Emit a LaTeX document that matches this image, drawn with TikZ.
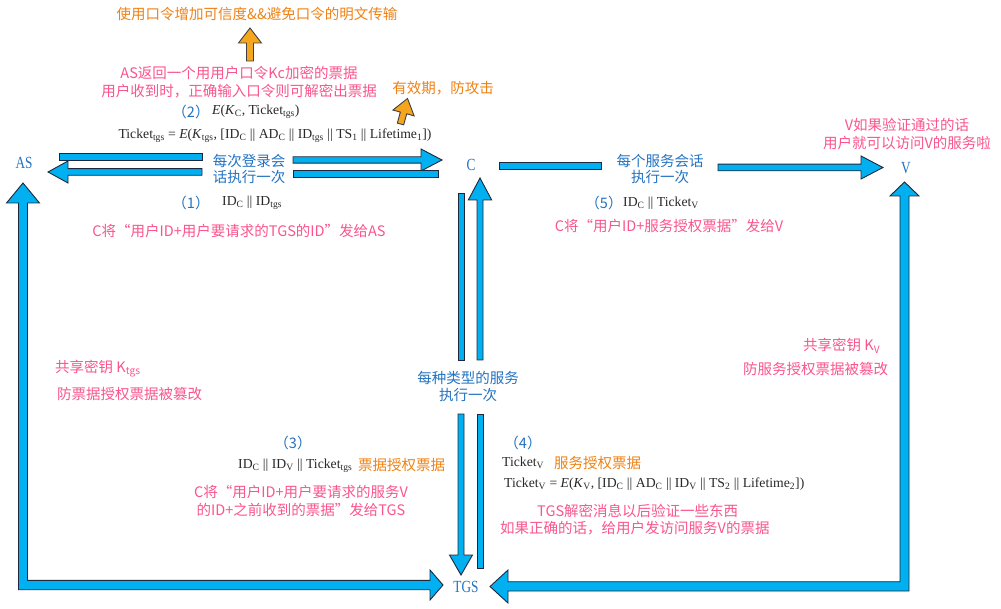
\documentclass[tikz,border=0pt]{standalone}
\usepackage{fontspec}
\setmainfont{Liberation Serif}
\newfontfamily\cjk{Noto Sans CJK SC}
\usetikzlibrary{calc}
\definecolor{abl}{RGB}{0,176,240}
\definecolor{aol}{RGB}{30,40,60}
\definecolor{tbl}{RGB}{35,115,195}
\definecolor{pk}{RGB}{250,85,140}
\definecolor{og}{RGB}{240,130,20}
\definecolor{oga}{RGB}{245,165,30}
\definecolor{mk}{RGB}{40,40,40}
% block arrow: style, from, to, shaft half width, head half width, head length
\newcommand\barrow[6]{%
  \coordinate (hb) at ($(#3)!#6!(#2)$);
  \draw[#1] ($(#2)!#4!90:(#3)$) -- ($(hb)!#4!90:(#3)$) -- ($(hb)!#5!90:(#3)$) -- (#3)
     -- ($(hb)!#5!-90:(#3)$) -- ($(hb)!#4!-90:(#3)$) -- ($(#2)!#4!-90:(#3)$) -- cycle;}
% plain band: style, from, to, half width
\newcommand\bband[4]{%
  \draw[#1] ($(#2)!#4!90:(#3)$) -- ($(#3)!#4!-90:(#2)$) -- ($(#3)!#4!90:(#2)$) -- ($(#2)!#4!-90:(#3)$) -- cycle;}
\tikzset{
  blk/.style={fill=abl, draw=aol, line width=0.9pt, line join=miter},
  oblk/.style={fill=oga, draw=black!75, line width=0.9pt, line join=miter},
  cj/.style={inner sep=0pt, font=\cjk\fontsize{14.5}{18}\selectfont, align=center},
  btx/.style={cj, text=tbl},
  ptx/.style={cj, text=pk},
  otx/.style={cj, text=og},
  mtx/.style={inner sep=0pt, text=mk, font=\fontsize{13.7}{15}\selectfont},
  lab/.style={inner sep=0pt, text=tbl, font=\fontsize{17}{19}\selectfont}
}
\begin{document}
\begin{tikzpicture}[x=1pt,y=-1pt]
\fill[white] (0,0) rectangle (1001,609);
\useasboundingbox (0,0) rectangle (1001,609);

% entity labels
\node[lab] (AS) at (24,163) {\scalebox{0.78}[1]{AS}};
\node[lab] (C) at (471,165) {\scalebox{0.78}[1]{C}};
\node[lab] (V) at (906,168) {\scalebox{0.78}[1]{V}};
\node[lab] (TGS) at (466,587) {\scalebox{0.78}[1]{TGS}};

% AS <-> C arrows
\coordinate (u1) at (59,157); \coordinate (u2) at (202,157);
\coordinate (u3) at (293,160); \coordinate (u4) at (442,160);
\bband{blk}{u1}{u2}{3.2pt}
\barrow{blk}{u3}{u4}{3.2pt}{11pt}{21pt}
\coordinate (l1) at (202,172); \coordinate (l2) at (48,172);
\coordinate (l3) at (293,174); \coordinate (l4) at (438,174);
\barrow{blk}{l1}{l2}{3.3pt}{11pt}{20pt}
\bband{blk}{l3}{l4}{3.3pt}

% C -> V
\coordinate (cv1) at (499,166); \coordinate (cv2) at (601,166);
\coordinate (cv3) at (718,167.5); \coordinate (cv4) at (883,167.5);
\bband{blk}{cv1}{cv2}{3.3pt}
\barrow{blk}{cv3}{cv4}{3.3pt}{11.5pt}{22pt}

% C -> TGS
\coordinate (ct1) at (461,193); \coordinate (ct2) at (461,360);
\coordinate (ct3) at (461,414); \coordinate (ct4) at (461,575);
\bband{blk}{ct1}{ct2}{3pt}
\barrow{blk}{ct3}{ct4}{3pt}{11.5pt}{20pt}
% TGS -> C
\coordinate (tc1) at (480,568); \coordinate (tc2) at (480,414);
\coordinate (tc3) at (480,360); \coordinate (tc4) at (480,178);
\bband{blk}{tc1}{tc2}{3pt}
\barrow{blk}{tc3}{tc4}{3pt}{11.7pt}{22pt}

% AS <-> TGS (shared key)
\draw[blk] (18.5,203) -- (6.5,203) -- (23,183) -- (39.5,203) -- (27.5,203) -- (27.5,580.3)
  -- (430,580.3) -- (430,570) -- (443,585) -- (430,600) -- (430,589.7) -- (18.5,589.7) -- cycle;
% V <-> TGS (shared key)
\draw[blk] (900,196) -- (890,196) -- (904.5,182) -- (919,196) -- (909,196) -- (909,591)
  -- (508,591) -- (508,603) -- (490,586.5) -- (508,570) -- (508,581.7) -- (900,581.7) -- cycle;

% orange arrows
\coordinate (oa1) at (250,61); \coordinate (oa2) at (250,28);
\barrow{oblk}{oa1}{oa2}{3.5pt}{11.5pt}{15pt}
\coordinate (oa3) at (400.5,124); \coordinate (oa4) at (407.5,98.5);
\barrow{oblk}{oa3}{oa4}{3.3pt}{11pt}{15pt}

% texts
\node[otx] (n1) at (257,14) {使用口令增加可信度\&\&避免口令的明文传输};
\node[ptx] (n2) at (239,82) {AS返回一个用用户口令Kc加密的票据\\用户收到时，正确输入口令则可解密出票据};
\node[otx] (n3) at (443,88) {有效期，防攻击};
\node[btx] (n4) at (191,112) {（2）};
\node[mtx, anchor=west] (n5) at (212,112) {\textit{E}(\textit{K}\textsubscript{C}, Ticket\textsubscript{tgs})};
\node[mtx] (n6) at (275,136) {Ticket\textsubscript{tgs} = \textit{E}(\textit{K}\textsubscript{tgs}, [ID\textsubscript{C} || AD\textsubscript{C} || ID\textsubscript{tgs} || TS\textsubscript{1} || Lifetime\textsubscript{1}])};
\node[btx, font=\cjk\fontsize{14.5}{16.5}\selectfont] (n7) at (249,169) {每次登录会\\话执行一次};
\node[btx] (n8) at (191,203) {（1）};
\node[mtx, anchor=west] (n9) at (222,203) {ID\textsubscript{C} || ID\textsubscript{tgs}};
\node[ptx] (n10) at (239,231) {C将“用户ID+用户要请求的TGS的ID”发给AS};

\node[btx, font=\cjk\fontsize{14.5}{16.5}\selectfont] (n11) at (660,169) {每个服务会话\\执行一次};
\node[btx] (n12) at (604,203) {（5）};
\node[mtx, anchor=west] (n13) at (623,203) {ID\textsubscript{C} || Ticket\textsubscript{V}};
\node[ptx] (n14) at (669,226) {C将“用户ID+服务授权票据”发给V};
\node[ptx] (n15) at (907,134) {V如果验证通过的话\\用户就可以访问V的服务啦};

\node[ptx, anchor=west] (n16) at (55,369) {共享密钥 K\textsubscript{tgs}};
\node[ptx, anchor=west] (n17) at (57,394) {防票据授权票据被篡改};
\node[btx, font=\cjk\fontsize{14.5}{17}\selectfont] (n18) at (468,386) {每种类型的服务\\执行一次};
\node[ptx, anchor=west] (n19) at (803,346) {共享密钥 K\textsubscript{V}};
\node[ptx, anchor=west] (n20) at (743,369) {防服务授权票据被篡改};

\node[btx] (n21) at (293,443) {（3）};
\node[mtx, anchor=west] (n22) at (238,466) {ID\textsubscript{C} || ID\textsubscript{V} || Ticket\textsubscript{tgs}};
\node[otx, anchor=west] (n23) at (358,465) {票据授权票据};
\node[ptx] (n24) at (301,501) {C将“用户ID+用户要请求的服务V\\的ID+之前收到的票据”发给TGS};

\node[btx] (n25) at (523,443) {（4）};
\node[mtx, anchor=west] (n26) at (502,463) {Ticket\textsubscript{V}};
\node[otx, anchor=west] (n27) at (554,463) {服务授权票据};
\node[mtx, anchor=west] (n28) at (504,484) {Ticket\textsubscript{V} = \textit{E}(\textit{K}\textsubscript{V}, [ID\textsubscript{C} || AD\textsubscript{C} || ID\textsubscript{V} || TS\textsubscript{2} || Lifetime\textsubscript{2}])};
\node[ptx, anchor=west] (n29) at (537,511) {TGS解密消息以后验证一些东西};
\node[ptx, anchor=west] (n30) at (500,528) {如果正确的话，给用户发访问服务V的票据};
\end{tikzpicture}
\end{document}
